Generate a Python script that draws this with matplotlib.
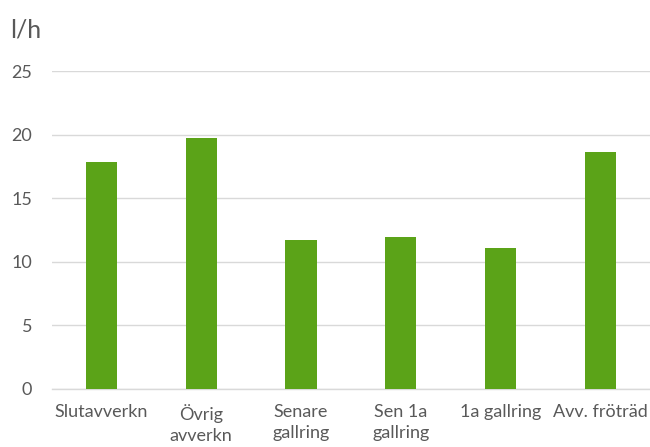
import matplotlib
matplotlib.use("Agg")
import matplotlib.pyplot as plt

categories = ["Slutavverkn", "Övrig\navverkn", "Senare\ngallring", "Sen 1a\ngallring", "1a gallring", "Avv. fröträd"]
values = [17.8, 19.7, 11.7, 11.9, 11.1, 18.6]
yticks = [0, 5, 10, 15, 20, 25]
unit_label = "l/h"

plt.rcParams["font.family"] = ["Lato", "DejaVu Sans"]

W, H = 650, 447
fig = plt.figure(figsize=(W / 100, H / 100), dpi=100)
ax = fig.add_axes([51.5 / W, (H - 388.7) / H, (650.3 - 51.5) / W, (388.7 - 71) / H])

x = list(range(len(categories)))
ax.bar(x, values, width=0.314, color="#5ba318", zorder=3)

ax.set_xlim(-0.5, len(categories) - 0.5)
ax.set_ylim(0, 25)
ax.set_yticks(yticks)
ax.set_xticks(x)
ax.set_xticklabels(categories, linespacing=1.4)

ax.grid(axis="y", color="#d9d9d9", linewidth=1.0, zorder=0)
for s in ["top", "right", "left"]:
    ax.spines[s].set_visible(False)
ax.spines["bottom"].set_color("#d9d9d9")
ax.spines["bottom"].set_linewidth(1.0)

ax.tick_params(axis="both", length=0, labelsize=13, colors="#595959")
ax.tick_params(axis="y", pad=14)
ax.tick_params(axis="x", pad=11)

fig.text(10 / W, 1 - 30 / H, unit_label, fontsize=18, color="#595959", va="center", ha="left")

fig.savefig("out.png", dpi=100)
